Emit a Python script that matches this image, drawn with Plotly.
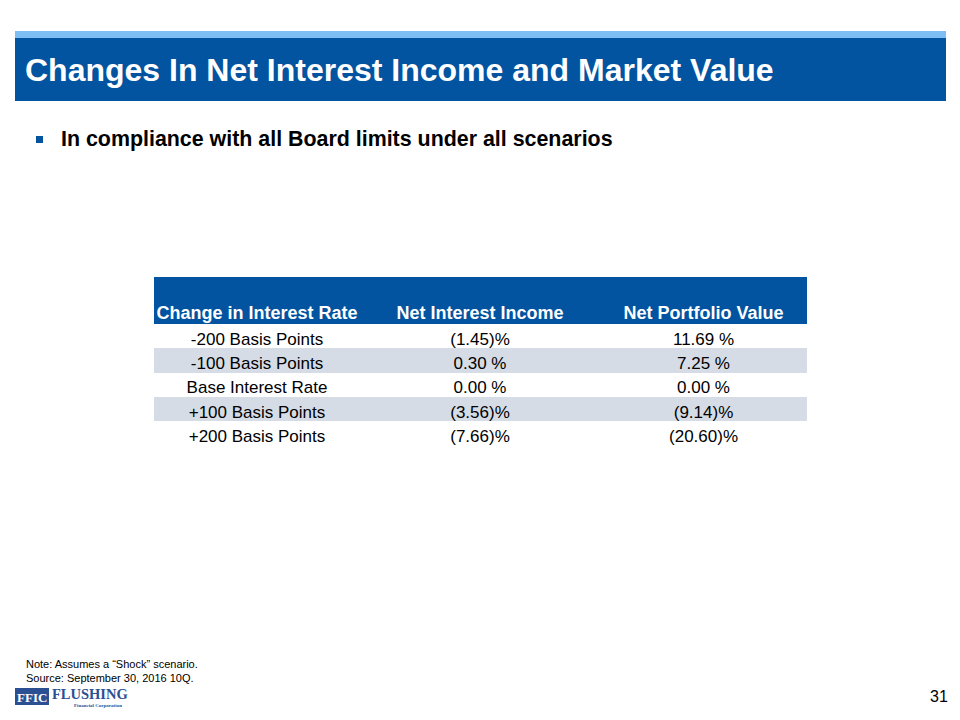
import plotly.graph_objects as go

# --- Data ---
scenarios = ["-200 Basis Points", "-100 Basis Points", "Base Interest Rate",
             "+100 Basis Points", "+200 Basis Points"]
net_interest_income = ["(1.45)%", "0.30 %", "0.00 %", "(3.56)%", "(7.66)%"]
net_portfolio_value = ["11.69 %", "7.25 %", "0.00 %", "(9.14)%", "(20.60)%"]
headers = ["Change in Interest Rate", "Net Interest Income", "Net Portfolio Value"]

TITLE = "Changes In Net Interest Income and Market Value"
BULLET = "In compliance with all Board limits under all scenarios"
NOTES = ["Note: Assumes a \u201cShock\u201d scenario.", "Source: September 30, 2016 10Q."]

DARK_BLUE = "#0254A0"
LIGHT_BLUE = "#7DBEF4"
ROW_GRAY = "#D6DCE5"
LOGO_BLUE = "#2B4F93"
FONT = "Liberation Sans, Arial"

# page body has an 8px margin, so the figure is drawn 8px in from the corner
OFF = 8
W, H = 944, 704


def fx(x):
    return (x - OFF) / W


def fy(y):
    return 1 - (y - OFF) / H


row_fill = [ROW_GRAY if i % 2 else "white" for i in range(len(scenarios))]

fig = go.Figure()
# header band is taller than one line: the top part is a plain shape,
# the table header row sits at its bottom.
# leading <br> stops plotly from auto-wrapping the header text
fig.add_trace(
    go.Table(
        domain=dict(x=[fx(154), fx(807)], y=[fy(520), fy(288)]),
        columnwidth=[206, 240, 207],
        header=dict(
            values=["<br><b>%s</b>" % h for h in headers],
            fill_color=DARK_BLUE,
            line=dict(color=DARK_BLUE, width=0),
            font=dict(family=FONT, size=18, color="white"),
            align="center",
            height=24,
        ),
        cells=dict(
            values=[scenarios, net_interest_income, net_portfolio_value],
            fill_color=[row_fill] * 3,
            line=dict(color="white", width=0),
            font=dict(family=FONT, size=17, color="black"),
            align="center",
            height=24.3,
        ),
    )
)

shapes = [
    # light stripe and title band
    dict(type="rect", x0=fx(15), x1=fx(946), y0=fy(38), y1=fy(31),
         fillcolor=LIGHT_BLUE, line_width=0, layer="below"),
    dict(type="rect", x0=fx(15), x1=fx(946), y0=fy(101), y1=fy(38),
         fillcolor=DARK_BLUE, line_width=0, layer="below"),
    # upper part of the table header band
    dict(type="rect", x0=fx(154), x1=fx(807), y0=fy(290), y1=fy(277),
         fillcolor=DARK_BLUE, line_width=0, layer="below"),
    # bullet square
    dict(type="rect", x0=fx(36), x1=fx(43), y0=fy(143), y1=fy(136),
         fillcolor=DARK_BLUE, line_width=0),
    # logo box
    dict(type="rect", x0=fx(15), x1=fx(49), y0=fy(705), y1=fy(688),
         fillcolor=LOGO_BLUE, line_width=0),
]
for s in shapes:
    s.update(xref="paper", yref="paper")

annotations = [
    dict(text="<b>%s</b>" % TITLE, x=fx(23), y=fy(70), xanchor="left",
         font=dict(family=FONT, size=32, color="white")),
    dict(text="<b>%s</b>" % BULLET, x=fx(59), y=fy(139), xanchor="left",
         font=dict(family=FONT, size=21.4, color="black")),
    dict(text=NOTES[0], x=fx(24), y=fy(664), xanchor="left",
         font=dict(family=FONT, size=11, color="black")),
    dict(text=NOTES[1], x=fx(24), y=fy(678), xanchor="left",
         font=dict(family=FONT, size=11, color="black")),
    dict(text="31", x=fx(950), y=fy(696), xanchor="right",
         font=dict(family=FONT, size=16, color="black")),
    dict(text="<b>FFIC</b>", x=fx(32), y=fy(697), xanchor="center",
         font=dict(family="Liberation Serif, Times New Roman", size=13, color="white")),
    dict(text="<b>FLUSHING</b>", x=fx(50), y=fy(694), xanchor="left",
         font=dict(family="Liberation Serif, Times New Roman", size=14.5, color=LOGO_BLUE)),
    dict(text="<b>Financial Corporation</b>", x=fx(124), y=fy(705), xanchor="right",
         font=dict(family="Liberation Serif, Times New Roman", size=5, color=LOGO_BLUE)),
]
for a in annotations:
    a.update(xref="paper", yref="paper", showarrow=False, yanchor="middle")

fig.update_layout(
    width=W,
    height=H,
    margin=dict(l=0, r=0, t=0, b=0),
    paper_bgcolor="white",
    plot_bgcolor="white",
    shapes=shapes,
    annotations=annotations,
)

fig.write_html("out.html")
